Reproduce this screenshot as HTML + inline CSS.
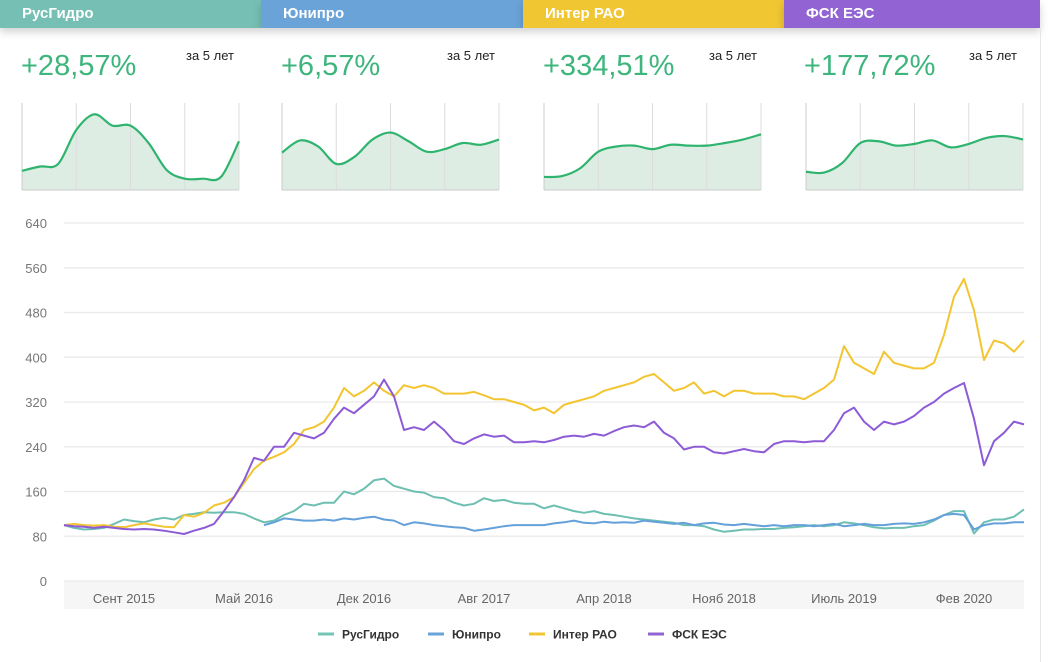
<!DOCTYPE html>
<html><head><meta charset="utf-8">
<style>
body{margin:0;width:1048px;height:662px;background:#fff;font-family:"Liberation Sans",sans-serif;overflow:hidden;position:relative}
.tab{position:absolute;top:0;height:28px;color:#fff;font-weight:bold;font-size:15px;line-height:28px;padding-left:22px;box-sizing:border-box;box-shadow:0 4px 8px rgba(0,0,0,0.18)}
.pct{position:absolute;top:50px;color:#3db57c;font-size:29px}
.per{position:absolute;top:48px;font-size:13px;color:#222}
.rline{position:absolute;left:1040px;top:28px;width:1px;height:634px;background:#e6e6e6}
</style></head><body>
<div class="tab" style="left:0;width:261px;background:#76bfb4">РусГидро</div>
<div class="tab" style="left:261px;width:262px;background:#6aa3d8">Юнипро</div>
<div class="tab" style="left:523px;width:261px;background:#f0c633">Интер РАО</div>
<div class="tab" style="left:784px;width:256px;background:#9163d3">ФСК ЕЭС</div>
<div class="rline"></div>
<div class="pct" style="left:21px">+28,57%</div>
<div class="pct" style="left:281px">+6,57%</div>
<div class="pct" style="left:543px">+334,51%</div>
<div class="pct" style="left:804px">+177,72%</div>
<div class="per" style="left:186px">за 5 лет</div>
<div class="per" style="left:447px">за 5 лет</div>
<div class="per" style="left:709px">за 5 лет</div>
<div class="per" style="left:969px">за 5 лет</div>
<svg id="svg" width="1048" height="662" style="position:absolute;left:0;top:0"></svg>
<script>
const sparkRus=[22,27,30,69,87,74,74,54,23,13,13,15,56];
const sparkUni=[43,57,50,30,38,58,66,56,44,47,54,52,58];
const sparkInter=[15,16,25,44,50,51,47,52,51,51,54,58,64];
const sparkFsk=[21,20,31,54,56,51,53,57,49,53,60,62,58];
const categories=["Сент 2015","Май 2016","Дек 2016","Авг 2017","Апр 2018","Нояб 2018","Июль 2019","Фев 2020"];
const yTicks=[0,80,160,240,320,400,480,560,640];
const rushydro=[100,95,92,93,95,102,110,107,105,110,113,110,118,120,123,122,123,123,120,112,105,108,118,125,138,135,140,140,160,155,165,180,183,170,165,160,158,150,148,140,135,138,148,143,145,140,138,138,130,135,130,125,122,125,120,118,115,112,110,108,106,104,100,100,98,92,88,90,92,92,93,93,95,96,98,100,98,100,105,103,100,96,94,95,95,98,100,108,118,125,125,85,105,110,110,115,128];
const unipro=[null,null,null,null,null,null,null,null,null,null,null,null,null,null,null,null,null,null,null,null,100,105,112,110,108,108,110,108,112,110,113,115,110,108,100,105,103,100,98,96,95,90,92,95,98,100,100,100,100,103,105,108,104,103,106,104,105,104,108,106,104,102,104,100,103,104,101,100,102,100,98,100,98,100,100,98,100,102,98,100,102,100,100,102,103,102,105,110,118,120,118,92,100,103,103,105,105];
const interrao=[100,102,100,99,100,97,96,100,103,100,97,96,118,115,122,135,140,150,175,200,215,222,230,245,270,275,285,310,345,330,340,355,340,330,350,345,350,345,335,335,335,338,332,325,325,320,315,305,310,300,315,320,325,330,340,345,350,355,365,370,355,340,345,355,335,340,330,340,340,335,335,335,330,330,325,335,345,360,420,390,380,370,410,390,385,380,380,390,440,508,540,484,395,430,425,410,430];
const fsk=[100,98,97,95,97,95,93,92,93,92,90,87,84,90,95,102,125,150,180,220,215,240,240,265,260,255,265,290,310,300,315,330,360,330,270,275,270,285,270,250,245,255,262,258,260,248,248,250,248,252,258,260,258,263,260,268,275,278,275,285,265,255,235,240,240,230,228,232,236,232,230,245,250,250,248,250,250,270,300,310,285,270,285,280,285,295,310,320,335,345,354,290,207,250,265,285,280];
const NS='http://www.w3.org/2000/svg';
const svg=document.getElementById('svg');
function mk(t,a,parent){const e=document.createElementNS(NS,t);for(const k in a)e.setAttribute(k,a[k]);(parent||svg).appendChild(e);return e;}
// sparklines
const sparks=[sparkRus,sparkUni,sparkInter,sparkFsk];
const sparkNames=['rushydro-sparkline','unipro-sparkline','interrao-sparkline','fsk-sparkline'];
const sparkLeft=[22,282,544,806];
function smooth(pts){let d='M'+pts[0][0]+','+pts[0][1];for(let i=0;i<pts.length-1;i++){const p0=pts[Math.max(0,i-1)],p1=pts[i],p2=pts[i+1],p3=pts[Math.min(pts.length-1,i+2)];const c1x=p1[0]+(p2[0]-p0[0])/6,c1y=p1[1]+(p2[1]-p0[1])/6,c2x=p2[0]-(p3[0]-p1[0])/6,c2y=p2[1]-(p3[1]-p1[1])/6;d+=` C${c1x},${c1y} ${c2x},${c2y} ${p2[0]},${p2[1]}`;}return d;}
sparks.forEach((arr,s)=>{
  const L=sparkLeft[s],W=217,T=103,B=190;
  const g=mk('g',{});
  
  
  const sx=i=>L+i*W/(arr.length-1), sy=v=>B-v/100*(B-T);
  const pts=arr.map((v,i)=>[sx(i),sy(v)]);
  const d=smooth(pts);
  const area=mk('path',{d:d+` L${L+W},${B} L${L},${B} Z`,fill:'#deede3'},g);
  
  
  for(let k=0;k<5;k++){const gl=mk('line',{x1:L+k*W/4,x2:L+k*W/4,y1:T,y2:B,stroke:k==0?'#ccc':'#dcdcdc','stroke-width':1},g);}
  const base=mk('line',{x1:L,x2:L+W,y1:B,y2:B,stroke:'#ccc'},g);
  
  
  const ln=mk('path',{d:d,fill:'none',stroke:'#2eb46e','stroke-width':2.2},g);
  
  
});
// main chart
const X0=64,X1=1024,Y0=581,Ypx=44.75/80;
const y=v=>Y0-v*Ypx;
const x=i=>X0+i*(X1-X0)/(rushydro.length-1);
const band=mk('rect',{x:X0,y:Y0,width:X1-X0,height:28,fill:'#f6f6f6'});


yTicks.forEach(t=>{
  const l=mk('line',{x1:X0,x2:X1,y1:y(t),y2:y(t),stroke:'#e9e9e9','stroke-width':1.3});
  
  
  const tx=mk('text',{x:47,y:y(t)+5,'text-anchor':'end','font-size':13,fill:'#777','font-family':'Liberation Sans, sans-serif'});
  tx.textContent=t;
  
  
});
categories.forEach((c,i)=>{
  const tx=mk('text',{x:124+i*120,y:603,'text-anchor':'middle','font-size':13,fill:'#666','font-family':'Liberation Sans, sans-serif'});
  tx.textContent=c;
  
  
});
const series=[[rushydro,'#6dbfb2','series-rushydro'],[unipro,'#64a0da','series-unipro'],[interrao,'#f2c531','series-interrao'],[fsk,'#8d5bd6','series-fsk']];
series.forEach(([arr,col,name])=>{
  let d='';let started=false;
  arr.forEach((v,i)=>{if(v==null)return;d+=(started?'L':'M')+x(i).toFixed(1)+','+y(v).toFixed(1);started=true;});
  const p=mk('path',{d:d,fill:'none',stroke:col,'stroke-width':2,'stroke-linejoin':'round'});
  
  
});
// legend
const legend=[['РусГидро','#76c4b8',318],['Юнипро','#6aa3d8',428],['Интер РАО','#f0c633',529],['ФСК ЕЭС','#9163d3',648]];
legend.forEach(([n,c,lx])=>{
  const g=mk('g',{});
  
  
  mk('line',{x1:lx,x2:lx+16,y1:634,y2:634,stroke:c,'stroke-width':3},g);
  const t=mk('text',{x:lx+24,y:638.5,'font-size':12,'font-weight':'bold',fill:'#333','font-family':'Liberation Sans, sans-serif'},g);
  t.textContent=n;
});
</script>
</body></html>
